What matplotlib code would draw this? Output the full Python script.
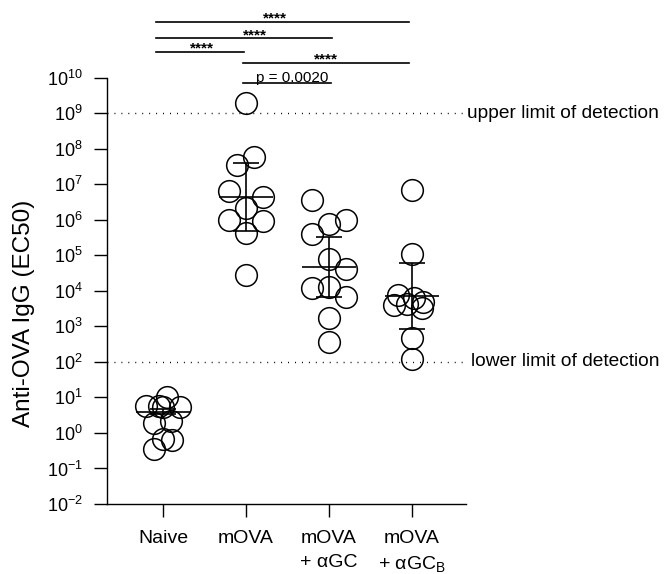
import numpy as np
import matplotlib
matplotlib.use("Agg")
import matplotlib.pyplot as plt
from matplotlib.ticker import FixedLocator, NullLocator

plt.rcParams['font.family'] = ['Liberation Sans', 'DejaVu Sans']

# group labels
groups = ['Naive', 'mOVA', 'mOVA\n+ αGC', 'mOVA\n+ αGC$_\\mathregular{B}$']

# EC50 values per animal, and their horizontal jitter (category units)
naive = [10.2, 5.9, 5.9, 5.3, 5.3, 1.9, 2.1, 0.69, 0.65, 0.36]
naive_dx = [0.05, -0.2, -0.05, 0.0, 0.2, -0.11, 0.1, 0.0, 0.11, -0.11]
mova = [1.95e9, 5.9e7, 3.4e7, 6.3e6, 4.3e6, 2.1e6, 9.7e5, 9.1e5, 4.2e5, 2.7e4]
mova_dx = [0.0, 0.1, -0.11, -0.2, 0.2, 0.0, -0.2, 0.2, 0.0, 0.0]
agc = [3.5e6, 1.0e6, 7.4e5, 3.9e5, 7.7e4, 4.0e4, 1.2e4, 1.25e4, 6.6e3, 1.7e3, 355]
agc_dx = [-0.2, 0.2, 0.0, -0.2, 0.0, 0.2, -0.2, 0.0, 0.2, 0.0, 0.0]
agcb = [6.8e6, 1.07e5, 7.4e3, 6.1e3, 4.8e3, 3.9e3, 4.2e3, 3.2e3, 460, 117]
agcb_dx = [0.0, 0.0, -0.17, 0.02, 0.13, -0.22, -0.06, 0.12, 0.0, 0.0]

# geometric mean with 95% CI
gmean = [3.9, 4.3e6, 4.6e4, 7.0e3]
ci_lo = [3.3, 4.7e5, 6.6e3, 830]
ci_hi = [4.6, 4.0e7, 3.2e5, 5.9e4]

# limits of detection
lod_upper = 1e9
lod_lower = 1e2

# significance brackets: start/end (category units), height (log10), label
br_x0 = [-0.08, -0.08, -0.08, 0.96, 0.96]
br_x1 = [2.96, 2.04, 0.98, 2.96, 2.02]
br_y = [11.56, 11.12, 10.71, 10.40, 9.85]
br_tx = [1.35, 1.11, 0.47, 1.96, 1.55]
br_ty = [11.56, 11.07, 10.71, 10.40, 9.88]
br_lab = ['****', '****', '****', '****', 'p = 0.0020']

fig = plt.figure(figsize=(6.64, 5.74), dpi=100)
ax = fig.add_axes([107/664, 1 - 504/574, 359/664, (504 - 77.5)/574])

values = [naive, mova, agc, agcb]
jitter = [naive_dx, mova_dx, agc_dx, agcb_dx]
for i, (v, dx) in enumerate(zip(values, jitter)):
    ax.plot(i + np.array(dx), v, 'o', ms=15.6, mfc='none', mec='black',
            mew=1.1, linestyle='none', zorder=3)

xs = np.arange(len(groups))
ax.hlines(gmean, xs - 0.33, xs + 0.33, color='black', lw=1.2, zorder=4)
ax.errorbar(xs, gmean,
            yerr=[np.array(gmean) - np.array(ci_lo), np.array(ci_hi) - np.array(gmean)],
            fmt='none', ecolor='black', elinewidth=1.2, capsize=9.7, capthick=1.2, zorder=4)

# dotted detection limits
for lvl in (lod_upper, lod_lower):
    ax.axhline(lvl, color='black', lw=1.0, linestyle=(0, (0.7, 4.3)), zorder=1)
ax.text(1.003, lod_upper, 'upper limit of detection', transform=ax.get_yaxis_transform(),
        ha='left', va='center', fontsize=13.8)
ax.text(1.015, lod_lower, 'lower limit of detection', transform=ax.get_yaxis_transform(),
        ha='left', va='center', fontsize=13.8)

# brackets
for x0, x1, y, tx, ty, lab in zip(br_x0, br_x1, br_y, br_tx, br_ty, br_lab):
    ax.plot([x0, x1], [10**y, 10**y], color='black', lw=1.2, clip_on=False)
    if lab.startswith('p'):
        ax.text(tx, 10**ty, lab, ha='center', va='baseline', fontsize=11, clip_on=False)
    else:
        ax.text(tx, 10**ty, lab, ha='center', va='baseline', fontsize=11,
                fontweight='bold', clip_on=False)

ax.set_yscale('log')
ax.set_ylim(1e-2, 1e10)
ax.set_xlim(-0.675, 3.65)
ax.yaxis.set_major_locator(FixedLocator([10.0**k for k in range(-2, 11)]))
ax.yaxis.set_minor_locator(NullLocator())
ax.set_yticklabels(['$\\mathregular{10^{%d}}$' % k for k in range(-2, 11)])
ax.set_xticks(xs)
ax.set_xticklabels(groups, linespacing=1.55)

ax.tick_params(axis='y', length=9.4, width=1.0, pad=8, labelsize=13)
ax.tick_params(axis='x', length=9.4, width=1.0, pad=9, labelsize=14)
for s in ('top', 'right'):
    ax.spines[s].set_visible(False)
for s in ('left', 'bottom'):
    ax.spines[s].set_linewidth(1.0)

ax.set_ylabel('Anti-OVA IgG (EC50)', fontsize=17.5)
ax.yaxis.set_label_coords(-0.20, 0.448)

fig.savefig('out.png', dpi=100)
